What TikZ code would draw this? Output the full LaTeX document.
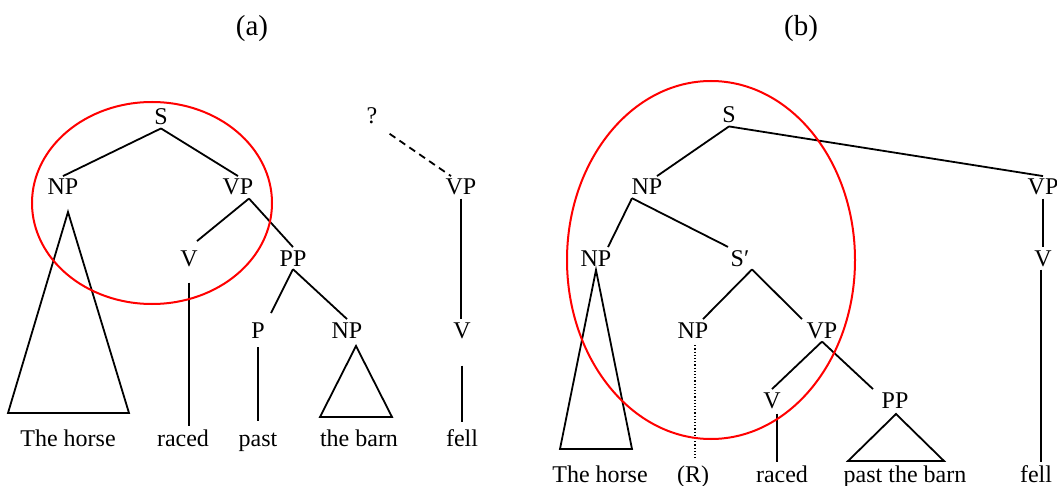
\documentclass[tikz,border=0pt]{standalone}
\usepackage{fontspec}
\setmainfont{Liberation Serif}
\usepackage{xcolor}
\usepackage{tikz}
\usetikzlibrary{positioning}
\definecolor{CircleRed}{HTML}{FF0000}

\begin{document}
\begin{tikzpicture}[
            x=1pt, y=-1pt,
            cat/.style={anchor=base, inner sep=3pt, font=\fontsize{24}{28}\selectfont},
            heading/.style={anchor=base, inner sep=3pt, font=\fontsize{29}{34}\selectfont},
            branch/.style={line width=1.8pt},
            tri/.style={line width=1.8pt, line join=miter},
            focus/.style={draw=CircleRed, line width=2pt}
        ]
            \useasboundingbox (0, 0) rectangle (1057, 486);

            \node[heading] at (252, 36) (capa) {(a)};
            \node[heading] at (801, 36) (capb) {(b)};

            \node[cat] at (161, 125) (Sa) {S};
            \node[cat] at (63, 195) (NPa) {NP};
            \node[cat] at (238, 195) (VPa) {VP};
            \node[cat] at (189, 266) (Va) {V};
            \node[cat] at (293, 266) (PPa) {PP};
            \node[cat] at (258, 338) (Pa) {P};
            \node[cat] at (347, 338) (NPaa) {NP};
            \node[cat] at (372, 124) (qa) {?};
            \node[cat] at (461, 195) (VPaa) {VP};
            \node[cat] at (462, 338) (Vaa) {V};

            \node[cat] at (68, 446) (horsea) {The horse};
            \node[cat] at (183, 446) (raceda) {raced};
            \node[cat] at (258, 446) (pasta) {past};
            \node[cat] at (359, 446) (barna) {the barn};
            \node[cat] at (462, 446) (fella) {fell};

            \draw[branch] (Sa.south) -- (NPa.north);
            \draw[branch] (Sa.south) -- (VPa.north);
            \draw[branch] ([xshift=11pt]VPa.south) -- ([xshift=8pt, yshift=6pt]Va.north);
            \draw[branch] ([xshift=11pt]VPa.south) -- (PPa.north);
            \draw[branch] (PPa.south) -- ([xshift=13pt, yshift=6pt]Pa.north);
            \draw[branch] (PPa.south) -- (NPaa.north);
            \draw[branch, shorten <=13pt] (Va.south) -- (Va.south |- raceda.north);
            \draw[branch, shorten <=6pt, shorten >=8pt] (Pa.south) -- (Pa.south |- pasta.north);
            \draw[branch] (VPaa.south) -- (VPaa.south |- Vaa.north);
            \draw[branch, shorten <=24pt, shorten >=4pt] (Vaa.south) -- (Vaa.south |- fella.north);
            \draw[branch, dash pattern=on 7pt off 5pt, shorten <=11pt] (qa.south east) -- ([xshift=-10pt]VPaa.north);

            \draw[tri] (68, 212) -- (8, 413) -- (129, 413) -- cycle;
            \draw[tri] (356, 346) -- (320, 417) -- (392, 417) -- cycle;

            \draw[focus] (152, 203) ellipse [x radius=120pt, y radius=101pt];

            \node[cat] at (729, 123) (Sb) {S};
            \node[cat] at (647, 195) (NPb) {NP};
            \node[cat] at (1043, 195) (VPb) {VP};
            \node[cat] at (596, 266) (NPbb) {NP};
            \node[cat] at (740, 266) (Sbar) {S′};
            \node[cat] at (1043, 266) (Vbb) {V};
            \node[cat] at (693, 338) (NPr) {NP};
            \node[cat] at (822, 338) (VPbb) {VP};
            \node[cat] at (772, 408) (Vb) {V};
            \node[cat] at (895, 408) (PPb) {PP};

            \node[cat] at (600, 482) (horseb) {The horse};
            \node[cat] at (693, 482) (relb) {(R)};
            \node[cat] at (782, 482) (racedb) {raced};
            \node[cat] at (905, 482) (pastb) {past the barn};
            \node[cat] at (1036, 482) (fellb) {fell};

            \draw[branch] (Sb.south) -- ([xshift=10pt]NPb.north);
            \draw[branch] (Sb.south) -- (VPb.north);
            \draw[branch] ([xshift=-15pt]NPb.south) -- ([xshift=12pt]NPbb.north);
            \draw[branch] ([xshift=-15pt]NPb.south) -- ([xshift=-12pt]Sbar.north);
            \draw[branch] ([xshift=12pt]Sbar.south) -- ([xshift=10pt]NPr.north);
            \draw[branch] ([xshift=12pt]Sbar.south) -- ([xshift=-20pt]VPbb.north);
            \draw[branch] (VPb.south) -- (VPb.south |- Vbb.north);
            \draw[branch] ([xshift=-2pt]Vbb.south) -- ([xshift=-2pt]Vbb.south |- fellb.north);
            \draw[line width=1.2pt, dotted, shorten <=4pt, shorten >=4pt] ([xshift=2pt]NPr.south) -- ([xshift=2pt]NPr.south |- relb.north);
            \draw[branch] (VPbb.south) -- (Vb.north);
            \draw[branch] (VPbb.south) -- ([xshift=-22pt]PPb.north);
            \draw[branch, shorten <=2pt] ([xshift=5pt]Vb.south) -- ([xshift=5pt]Vb.south |- racedb.north);

            \draw[tri] (596, 270) -- (560, 449) -- (632, 449) -- cycle;
            \draw[tri] (896, 414) -- (848, 461) -- (944, 461) -- cycle;

            \draw[focus] (711, 260) ellipse [x radius=144pt, y radius=179pt];

        \end{tikzpicture}
\end{document}
